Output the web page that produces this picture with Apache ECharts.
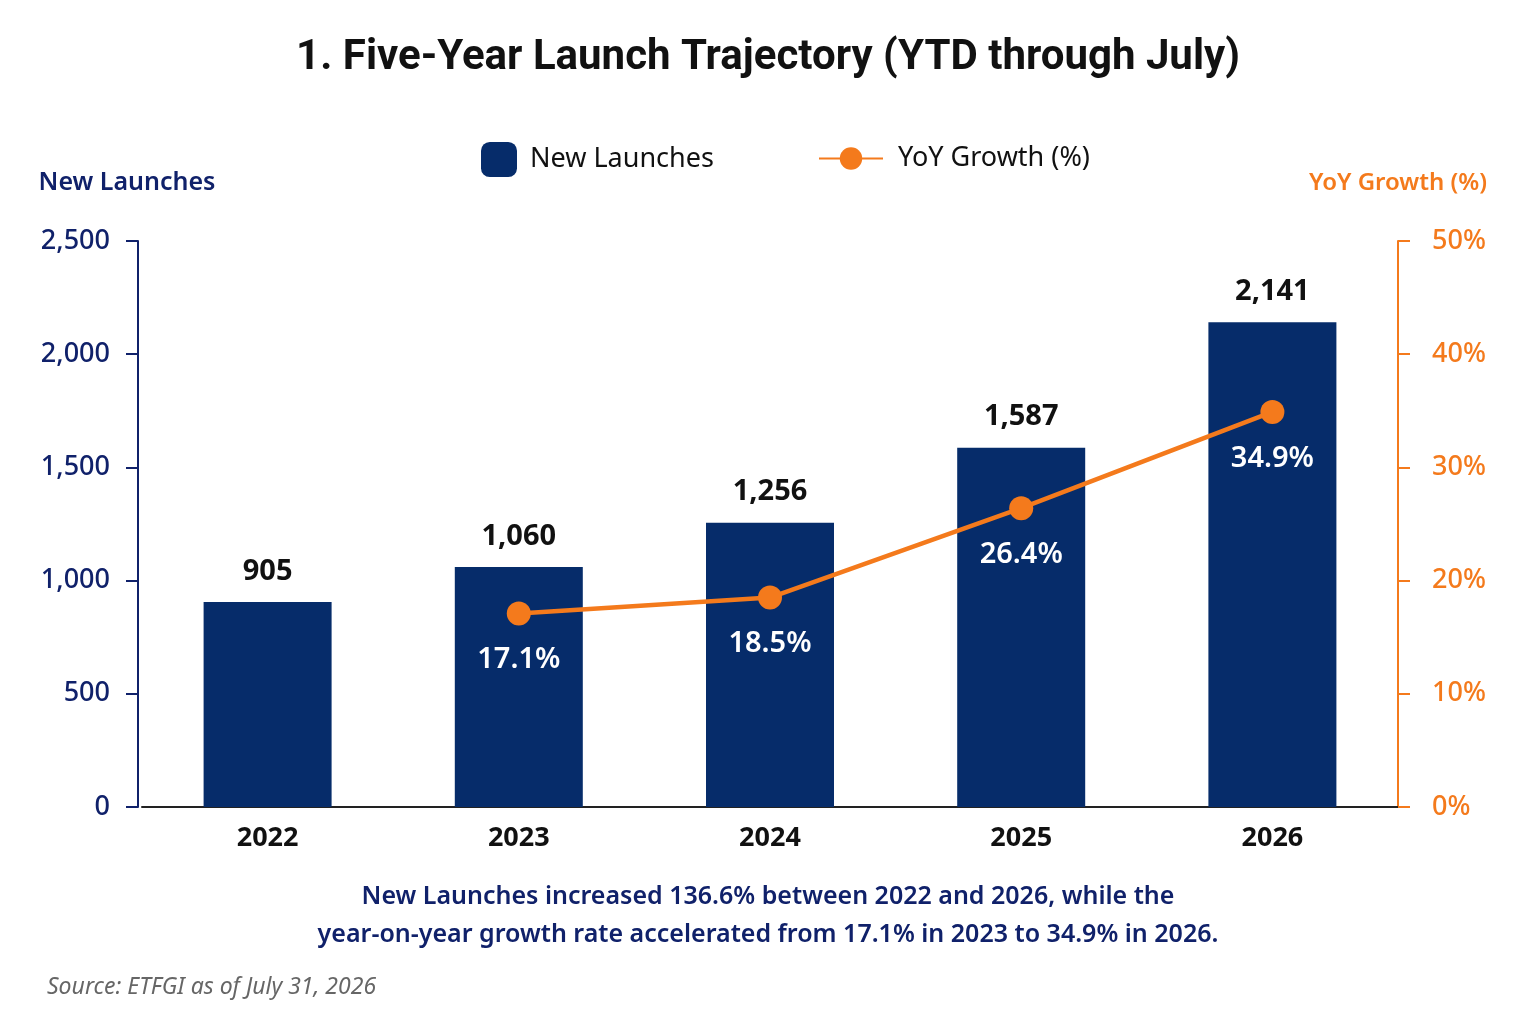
<!DOCTYPE html>
<html>
<head>
<meta charset="utf-8">
<script src="https://cdn.jsdelivr.net/npm/echarts@6/dist/echarts.min.js"></script>
<style>
  html, body { margin: 0; padding: 0; background: #fff; }
  #chart { width: 1536px; height: 1024px; }
</style>
</head>
<body>
<div id="chart"></div>
<script>
// data
var years = ['2022', '2023', '2024', '2025', '2026'];
var launches = [905, 1060, 1256, 1587, 2141];
var yoyGrowth = [null, 17.1, 18.5, 26.4, 34.9];
var leftTicks = [0, 2500, 500];   // min, max, interval
var rightTicks = [0, 50, 10];
var summary = [
    'New Launches increased 136.6% between 2022 and 2026, while the',
    'year-on-year growth rate accelerated from 17.1% in 2023 to 34.9% in 2026.'
];

var NAVY = '#062c6a';
var NAVY_TXT = '#10216a';
var ORANGE = '#f47a1c';
var FONT = '"Noto Sans", "Open Sans", sans-serif';

var chart = echarts.init(document.getElementById('chart'));

var option = {
    backgroundColor: '#ffffff',
    textStyle: { fontFamily: FONT },
    title: [
        {
            text: '1. Five-Year Launch Trajectory (YTD through July)',
            left: 'center', top: 32,
            textStyle: { fontFamily: 'Roboto, sans-serif', fontSize: 42, fontWeight: 'bold', color: '#111' }
        },
        {
            text: 'Source: ETFGI as of July 31, 2026',
            left: 42, top: 971,
            textStyle: { fontSize: 23, fontStyle: 'italic', fontWeight: 'normal', color: '#666' }
        }
    ],
    // two centred summary lines
    graphic: summary.map(function (line, i) {
        return {
            type: 'text', left: 'center', top: 884 + i * 38,
            style: {
                text: line,
                font: '600 25px "Noto Sans", sans-serif',
                fill: NAVY_TXT
            }
        };
    }),
    legend: [
        {
            data: [{ name: 'New Launches', icon: 'roundRect' }],
            left: 476, top: 137,
            itemWidth: 36, itemHeight: 35,
            textStyle: { fontSize: 27, color: '#111', padding: [0, 0, 0, 8] }
        },
        {
            data: ['YoY Growth (%)'],
            left: 813, top: 140,
            itemWidth: 64, itemHeight: 28,
            textStyle: { fontSize: 27, color: '#111', padding: [0, 0, 0, 10] }
        }
    ],
    grid: { left: 142, right: 138, top: 241, bottom: 217, containLabel: false },
    xAxis: {
        type: 'category',
        data: years,
        axisLine: { lineStyle: { color: '#222', width: 2 } },
        axisTick: { show: false },
        axisLabel: { fontSize: 27, fontWeight: 'bold', color: '#111', margin: 18 }
    },
    yAxis: [
        {
            type: 'value',
            offset: 4,
            min: leftTicks[0], max: leftTicks[1], interval: leftTicks[2],
            name: 'New Launches',
            nameLocation: 'end', nameGap: 46,
            nameTextStyle: { fontSize: 25, fontWeight: 600, color: NAVY_TXT, padding: [0, 22, 0, 0] },
            axisLine: { show: true, lineStyle: { color: NAVY_TXT, width: 2 } },
            axisTick: { show: true, length: 12, lineStyle: { color: NAVY_TXT, width: 2 } },
            splitLine: { show: false },
            axisLabel: {
                fontSize: 27, fontWeight: 500, color: NAVY_TXT, margin: 28,
                formatter: function (v) { return v.toLocaleString('en-US'); }
            }
        },
        {
            type: 'value',
            min: rightTicks[0], max: rightTicks[1], interval: rightTicks[2],
            name: 'YoY Growth (%)',
            nameLocation: 'end', nameGap: 46,
            nameTextStyle: { fontSize: 24, fontWeight: 600, color: ORANGE, padding: [0, 0, 0, 0] },
            axisLine: { show: true, lineStyle: { color: ORANGE, width: 2 } },
            axisTick: { show: true, length: 12, lineStyle: { color: ORANGE, width: 2 } },
            splitLine: { show: false },
            axisLabel: {
                fontSize: 27, fontWeight: 500, color: ORANGE, margin: 34,
                formatter: '{value}%'
            }
        }
    ],
    series: [
        {
            name: 'New Launches',
            type: 'bar',
            data: launches,
            barWidth: 128,
            itemStyle: { color: NAVY },
            label: {
                show: true, position: 'top', distance: 16,
                fontSize: 29, fontWeight: 'bold', color: '#111',
                formatter: function (p) { return p.value.toLocaleString('en-US'); }
            },
            z: 2
        },
        {
            name: 'YoY Growth (%)',
            type: 'line',
            yAxisIndex: 1,
            data: yoyGrowth,
            connectNulls: false,
            symbol: 'circle',
            symbolSize: 24,
            lineStyle: { color: ORANGE, width: 4.5 },
            itemStyle: { color: ORANGE },
            label: {
                show: true, position: 'bottom', distance: 20,
                fontSize: 29, fontWeight: 600, color: '#fff',
                formatter: function (p) { return p.value == null ? '' : p.value.toFixed(1) + '%'; }
            },
            z: 5
        }
    ]
};

chart.setOption(option);
</script>
</body>
</html>
